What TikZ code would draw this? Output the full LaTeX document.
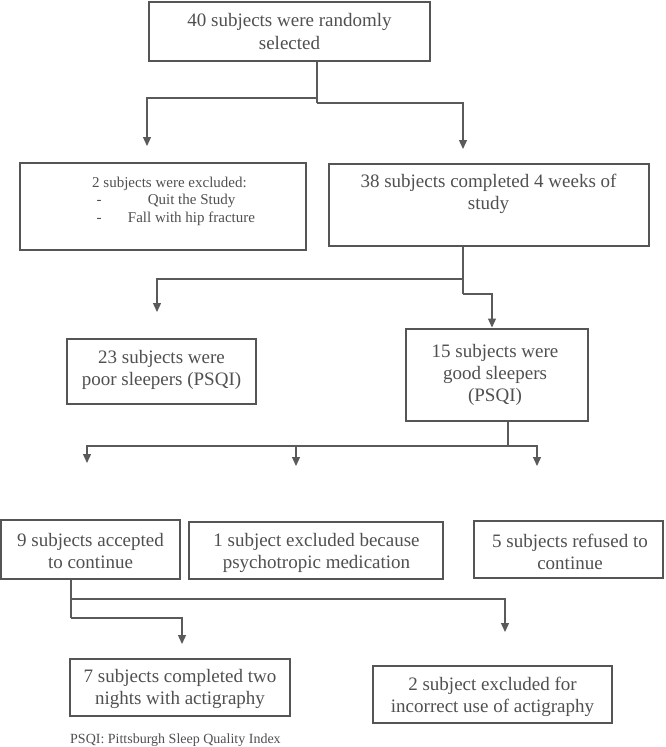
\documentclass[tikz,border=0pt]{standalone}
\usepackage{fontspec}
\setmainfont{Liberation Serif}
\usetikzlibrary{arrows.meta,calc}
\definecolor{boxgray}{HTML}{555555}
\definecolor{txtgray}{HTML}{505050}
\definecolor{linegray}{HTML}{5A5A5A}
\tikzset{
  stepbox/.style={draw=boxgray, line width=2.6pt, rectangle, inner sep=0pt},
  bigtxt/.style={text=txtgray, align=center, inner sep=0pt, font=\fontsize{19}{22}\selectfont},
  smalltxt/.style={text=txtgray, inner sep=0pt, font=\fontsize{15}{17}\selectfont, anchor=base},
  conn/.style={draw=linegray, line width=1.3pt},
  arr/.style={conn, -{Triangle[length=9pt,width=8pt]}},
}
\begin{document}
\begin{tikzpicture}[x=1pt,y=-1pt]
\useasboundingbox (0,0) rectangle (666,747);
\fill[white] (0,0) rectangle (666,747);

% boxes
\node[stepbox, minimum width=281pt, minimum height=59pt] (top) at (289.5,31.5) {};
\node[bigtxt] (toptxt) at (289.5,31.5) {40 subjects were randomly\\selected};

\node[stepbox, minimum width=286pt, minimum height=87pt] (excl) at (163,206.5) {};
\node[smalltxt] (ex1) at (169.5,187) {2 subjects were excluded:};
\node[smalltxt] (ex2d) at (99,204) {-};
\node[smalltxt] (ex2) at (191.5,204) {Quit the Study};
\node[smalltxt] (ex3d) at (99,222) {-};
\node[smalltxt] (ex3) at (191.5,222) {Fall with hip fracture};

\node[stepbox, minimum width=320pt, minimum height=82pt] (compl) at (489,205) {};
\node[bigtxt] (compltxt) at (488.5,194) {38 subjects completed 4 weeks of\\study};

\node[stepbox, minimum width=189pt, minimum height=65pt] (poor) at (161.5,371.5) {};
\node[bigtxt] (poortxt) at (161.5,370) {23 subjects were\\poor sleepers (PSQI)};

\node[stepbox, minimum width=182pt, minimum height=92pt] (good) at (497,375) {};
\node[bigtxt] (goodtxt) at (495,374.5) {15 subjects were\\good sleepers\\(PSQI)};

\node[stepbox, minimum width=179pt, minimum height=59pt] (acc) at (90.5,549.5) {};
\node[bigtxt] (acctxt) at (90.5,550.5) {9 subjects accepted\\to continue};

\node[stepbox, minimum width=254pt, minimum height=57pt] (psy) at (316,550.5) {};
\node[bigtxt] (psytxt) at (316.5,552.5) {1 subject excluded because\\psychotropic medication};

\node[stepbox, minimum width=189pt, minimum height=57pt] (ref) at (568.5,549.5) {};
\node[bigtxt] (reftxt) at (570,552) {5 subjects refused to\\continue};

\node[stepbox, minimum width=220pt, minimum height=57pt] (seven) at (180,687.5) {};
\node[bigtxt] (seventxt) at (180,689) {7 subjects completed two\\nights with actigraphy};

\node[stepbox, minimum width=239pt, minimum height=57pt] (two) at (492.5,694.5) {};
\node[bigtxt] (twotxt) at (492.5,696.5) {2 subject excluded for\\incorrect use of actigraphy};

\node[text=txtgray, inner sep=0pt, font=\fontsize{14}{16}\selectfont, anchor=base west] (foot) at (70,743) {PSQI: Pittsburgh Sleep Quality Index};

% coordinates for connectors
\coordinate (j1) at (317,98);
\coordinate (j1b) at (317,103);
\coordinate (aL1) at (147,146);
\coordinate (aR1) at (463,149);

\coordinate (j2) at (463,279);
\coordinate (j2b) at (463,294);
\coordinate (aL2) at (157,312);
\coordinate (aR2) at (492,327.5);

\coordinate (j3) at (508,446);
\coordinate (aA) at (87,463);
\coordinate (aB) at (296,466);
\coordinate (aC) at (537,466);

\coordinate (j4) at (71,599);
\coordinate (j4b) at (71,618);
\coordinate (aS) at (182,644);
\coordinate (aT) at (505,632);

% connectors
\draw[conn, line width=2pt] (top.south -| j1) -- (j1);
\draw[arr] (j1) -| (aL1);
\draw[conn] (j1) -- (j1b);
\draw[arr] (j1b) -| (aR1);

\draw[conn] (compl.south -| j2) -- (j2);
\draw[arr] (j2) -| (aL2);
\draw[conn] (j2) -- (j2b);
\draw[arr] (j2b) -| (aR2);

\draw[conn] (good.south -| j3) -- (j3);
\draw[arr] (j3) -| (aC);
\draw[arr] (j3) -| (aA);
\draw[arr] (aB |- j3) -- (aB);

\draw[conn] (acc.south -| j4) -- (j4);
\draw[arr] (j4) -| (aT);
\draw[conn] (j4) -- (j4b);
\draw[arr] (j4b) -| (aS);
\end{tikzpicture}
\end{document}
